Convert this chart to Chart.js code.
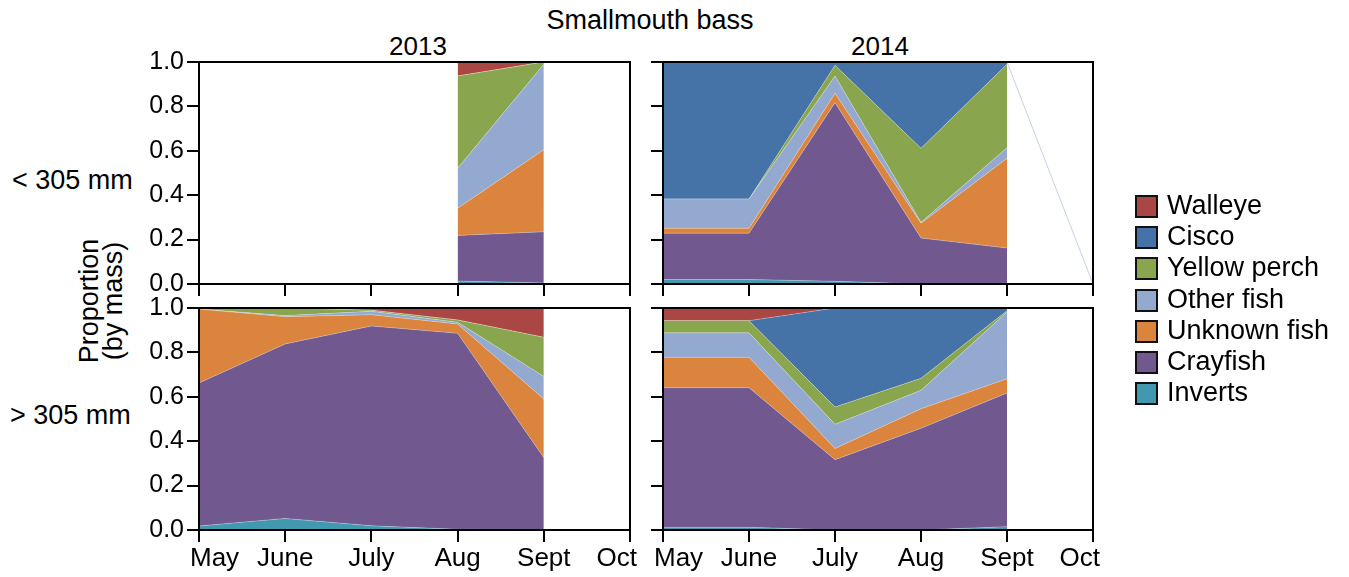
<!DOCTYPE html>
<html>
<head>
<meta charset="utf-8">
<title>Smallmouth bass diet composition</title>
<script src="https://cdn.jsdelivr.net/npm/chart.js@4.4.1/dist/chart.umd.min.js"></script>
<style>
  html, body { margin: 0; padding: 0; background: #fff; }
  body { position: relative; width: 1349px; height: 577px; overflow: hidden;
         font-family: "Liberation Sans", Arial, Helvetica, sans-serif; color: #000; }
  canvas { position: absolute; }
  .txt { position: absolute; white-space: nowrap; line-height: 1; }
  .legend { position: absolute; left: 1135px; top: 195px; }
  .legend .row { position: relative; height: 31.2px; }
  .legend .box { position: absolute; left: 0; top: 0; width: 19px; height: 19px; border: 2px solid #111; }
  .legend .lbl { position: absolute; left: 32px; top: -3px; font-size: 27px; line-height: 1; white-space: nowrap; }
</style>
</head>
<body>

<div class="txt" style="left:0;width:1300px;text-align:center;top:7px;font-size:27px;">Smallmouth bass</div>
<div class="txt" style="left:318px;width:200px;text-align:center;top:33px;font-size:26px;">2013</div>
<div class="txt" style="left:780px;width:200px;text-align:center;top:33px;font-size:26px;">2014</div>
<div class="txt" style="left:12px;top:167px;font-size:27px;">&lt; 305 mm</div>
<div class="txt" style="left:10px;top:402px;font-size:27px;">&gt; 305 mm</div>
<div class="txt" style="left:31px;top:277px;width:140px;text-align:center;font-size:27px;line-height:24px;transform:rotate(-90deg);">Proportion<br>(by mass)</div>

<canvas id="pTL" width="533" height="258" style="left:127px;top:42px;"></canvas>
<canvas id="pTR" width="500" height="258" style="left:623px;top:42px;"></canvas>
<canvas id="pBL" width="533" height="287" style="left:127px;top:288px;"></canvas>
<canvas id="pBR" width="500" height="287" style="left:623px;top:288px;"></canvas>

<div class="legend" id="legend"></div>

<script>
// Sampling months (Oct has no samples)
const months = ['May', 'June', 'July', 'Aug', 'Sept', 'Oct'];
const yTicks = [0, 0.2, 0.4, 0.6, 0.8, 1.0];

// Prey groups, stacked from the bottom up
const preyNames  = ['Inverts', 'Crayfish', 'Unknown fish', 'Other fish', 'Yellow perch', 'Cisco', 'Walleye'];
const preyColors = ['#4198AF', '#71588F', '#DB843D', '#93A9CF', '#89A54E', '#4572A7', '#AA4643'];

// < 305 mm, 2013 (fish collected only in Aug and Sept)
const small2013Inverts   = [null, null, null, 0.013, 0.005, null];
const small2013Crayfish  = [null, null, null, 0.206, 0.230, null];
const small2013Unknown   = [null, null, null, 0.122, 0.370, null];
const small2013Other     = [null, null, null, 0.180, 0.385, null];
const small2013Perch     = [null, null, null, 0.416, 0.010, null];
const small2013Cisco     = [null, null, null, 0.000, 0.000, null];
const small2013Walleye   = [null, null, null, 0.063, 0.000, null];

// < 305 mm, 2014
const small2014Inverts   = [0.020, 0.020, 0.012, 0.000, 0.000, null];
const small2014Crayfish  = [0.209, 0.209, 0.805, 0.207, 0.162, null];
const small2014Unknown   = [0.022, 0.022, 0.042, 0.067, 0.404, null];
const small2014Other     = [0.132, 0.132, 0.078, 0.004, 0.048, null];
const small2014Perch     = [0.000, 0.000, 0.048, 0.333, 0.376, null];
const small2014Cisco     = [0.617, 0.617, 0.015, 0.389, 0.010, null];
const small2014Walleye   = [0.000, 0.000, 0.000, 0.000, 0.000, null];
// thin outline left trailing from the Sept total to Oct
const small2014Trail     = [null, null, null, null, 1.0, 0.0];

// > 305 mm, 2013
const large2013Inverts   = [0.018, 0.052, 0.019, 0.003, 0.002, null];
const large2013Crayfish  = [0.644, 0.786, 0.900, 0.883, 0.324, null];
const large2013Unknown   = [0.333, 0.123, 0.051, 0.042, 0.264, null];
const large2013Other     = [0.000, 0.005, 0.015, 0.008, 0.102, null];
const large2013Perch     = [0.005, 0.034, 0.005, 0.010, 0.176, null];
const large2013Cisco     = [0.000, 0.000, 0.000, 0.000, 0.000, null];
const large2013Walleye   = [0.000, 0.000, 0.010, 0.054, 0.132, null];

// > 305 mm, 2014
const large2014Inverts   = [0.012, 0.012, 0.000, 0.000, 0.015, null];
const large2014Crayfish  = [0.629, 0.629, 0.317, 0.458, 0.602, null];
const large2014Unknown   = [0.137, 0.137, 0.050, 0.088, 0.064, null];
const large2014Other     = [0.110, 0.110, 0.109, 0.083, 0.301, null];
const large2014Perch     = [0.055, 0.055, 0.078, 0.054, 0.006, null];
const large2014Cisco     = [0.000, 0.000, 0.446, 0.317, 0.012, null];
const large2014Walleye   = [0.057, 0.057, 0.000, 0.000, 0.000, null];

const FONT = '"Liberation Sans", Arial, Helvetica, sans-serif';

// Black frame around each plotting area
const framePlugin = {
  id: 'frame',
  afterDraw(chart) {
    const { ctx, chartArea: a } = chart;
    ctx.save();
    ctx.strokeStyle = '#000';
    ctx.lineWidth = 2;
    ctx.strokeRect(a.left, a.top, a.right - a.left, a.bottom - a.top);
    ctx.restore();
  }
};

// Keep the first and last month labels inside the panel edges
const edgeLabelPlugin = {
  id: 'edgeLabels',
  beforeDraw(chart) {
    const sc = chart.scales.x;
    if (!sc || !sc.options.ticks.display) return;
    const items = sc.getLabelItems(chart.chartArea);
    if (!items.length) return;
    const first = items[0], last = items[items.length - 1];
    first.options.textAlign = 'left';
    first.options.translation[0] = sc.getPixelForTick(0) - 9;
    last.options.textAlign = 'right';
    last.options.translation[0] = sc.getPixelForTick(items.length - 1) + 7;
  }
};

function makePanel(canvasId, series, opts) {
  const datasets = series.map((vals, i) => ({
    label: preyNames[i],
    data: vals,
    backgroundColor: preyColors[i],
    borderColor: 'rgba(255,255,255,0.35)',
    borderWidth: 0.8,
    fill: i === 0 ? 'origin' : '-1',
    pointRadius: 0,
    pointHoverRadius: 0,
    tension: 0,
    stack: 'diet'
  }));
  if (opts.trail) {
    datasets.push({
      label: 'trail',
      data: opts.trail,
      borderColor: '#c6d1e6',
      borderWidth: 1,
      fill: false,
      pointRadius: 0,
      tension: 0,
      stack: 'trail'
    });
  }
  return new Chart(document.getElementById(canvasId), {
    type: 'line',
    data: { labels: months, datasets },
    plugins: [framePlugin, edgeLabelPlugin],
    options: {
      responsive: false,
      animation: false,
      devicePixelRatio: 1,
      events: [],
      layout: { autoPadding: false, padding: { left: 0, right: 30, top: 20, bottom: 0 } },
      plugins: { legend: { display: false }, tooltip: { enabled: false }, title: { display: false } },
      scales: {
        x: {
          type: 'category',
          offset: false,
          grid: { display: true, drawOnChartArea: false, drawTicks: true, tickLength: 12, color: '#000', lineWidth: 2 },
          border: { display: true, color: '#000', width: 2 },
          ticks: { display: opts.showX, color: '#000', font: { family: FONT, size: 26, lineHeight: 1 }, padding: 4, maxRotation: 0, autoSkip: false },
          afterFit: (s) => { s.height = opts.showX ? 45 : 16; }
        },
        y: {
          stacked: true,
          min: 0,
          max: 1,
          afterBuildTicks: (s) => { s.ticks = yTicks.map(v => ({ value: v })); },
          grid: { display: true, drawOnChartArea: false, drawTicks: true, tickLength: 12, color: '#000', lineWidth: 2 },
          border: { display: true, color: '#000', width: 2 },
          ticks: { display: opts.showY, color: '#000', font: { family: FONT, size: 25, lineHeight: 1 }, padding: 3,
                   callback: (v) => Number(v).toFixed(1) },
          afterFit: (s) => { s.width = opts.showY ? 72 : 40; }
        }
      }
    }
  });
}

makePanel('pTL', [small2013Inverts, small2013Crayfish, small2013Unknown, small2013Other, small2013Perch, small2013Cisco, small2013Walleye],
          { showX: false, showY: true });
makePanel('pTR', [small2014Inverts, small2014Crayfish, small2014Unknown, small2014Other, small2014Perch, small2014Cisco, small2014Walleye],
          { showX: false, showY: false, trail: small2014Trail });
makePanel('pBL', [large2013Inverts, large2013Crayfish, large2013Unknown, large2013Other, large2013Perch, large2013Cisco, large2013Walleye],
          { showX: true, showY: true });
makePanel('pBR', [large2014Inverts, large2014Crayfish, large2014Unknown, large2014Other, large2014Perch, large2014Cisco, large2014Walleye],
          { showX: true, showY: false });

// Legend, listed from the top of the stack down
const legend = document.getElementById('legend');
for (let i = preyNames.length - 1; i >= 0; i--) {
  const row = document.createElement('div');
  row.className = 'row';
  const box = document.createElement('div');
  box.className = 'box';
  box.style.background = preyColors[i];
  const lbl = document.createElement('div');
  lbl.className = 'lbl';
  lbl.textContent = preyNames[i];
  row.appendChild(box);
  row.appendChild(lbl);
  legend.appendChild(row);
}
</script>
</body>
</html>
